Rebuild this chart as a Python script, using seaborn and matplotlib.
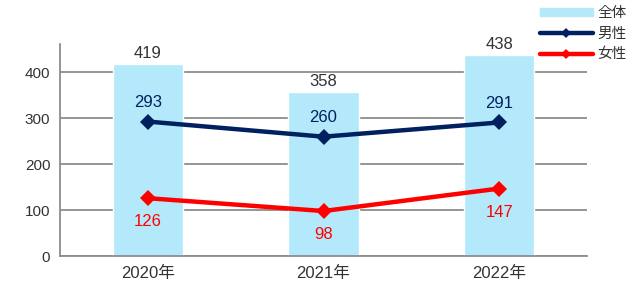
import numpy as np
import matplotlib
matplotlib.use("Agg")
import matplotlib.pyplot as plt
import matplotlib.patches as mpatches
from matplotlib.lines import Line2D
import pandas as pd
import seaborn as sns

# ── data ─────────────────────────────────────────────────────────────────────
years  = ["2020年", "2021年", "2022年"]
total  = [419, 358, 438]
male   = [293, 260, 291]
female = [126, 98, 147]

C_BAR    = "#B3E9FB"
C_MALE   = "#002060"
C_FEMALE = "#FF0000"
C_GRID   = "#8C8C8C"
C_TEXT   = "#333333"

sns.set_theme(style="white")
plt.rcParams["font.family"] = ["Liberation Sans", "Noto Sans CJK JP", "DejaVu Sans"]

df = pd.DataFrame({"year": years, "total": total, "male": male, "female": female})

fig = plt.figure(figsize=(6.43, 2.88), dpi=100)
ax = fig.add_axes([60 / 643, 32 / 288, 527 / 643, 212 / 288])

sns.barplot(data=df, x="year", y="total", color=C_BAR, width=0.4,
            saturation=1, ax=ax, zorder=2)
sns.lineplot(data=df, x="year", y="male", color=C_MALE, lw=3.2,
             marker="D", markersize=8, markeredgewidth=0, ax=ax, zorder=3)
sns.lineplot(data=df, x="year", y="female", color=C_FEMALE, lw=3.2,
             marker="D", markersize=8, markeredgewidth=0, ax=ax, zorder=3)

ax.set_xlim(-0.5, 2.5)
ax.set_ylim(0, 462)
ax.set_yticks([0, 100, 200, 300, 400])
ax.yaxis.grid(True, color=C_GRID, lw=1.3, zorder=0)
ax.set_axisbelow(True)
ax.set_xlabel(""); ax.set_ylabel("")

for s in ["top", "right"]:
    ax.spines[s].set_visible(False)
for s in ["left", "bottom"]:
    ax.spines[s].set_color(C_GRID)
    ax.spines[s].set_linewidth(1.3)

ax.tick_params(axis="x", which="major", length=0, labelsize=12,
               labelcolor=C_TEXT, pad=7)
ax.set_xticks([-0.5, 0.5, 1.5, 2.5], minor=True)
ax.tick_params(axis="x", which="minor", length=4, width=1.3, color=C_GRID,
               direction="out")
ax.tick_params(axis="y", length=4, width=1.3, color=C_GRID, direction="out",
               labelsize=11, labelcolor=C_TEXT, pad=3)

for i, v in enumerate(total):
    ax.annotate(f"{v}", (i, v), xytext=(0, 2), textcoords="offset points",
                ha="center", va="bottom", fontsize=12, color=C_TEXT)
for i, v in enumerate(male):
    ax.annotate(f"{v}", (i, v), xytext=(0, 14), textcoords="offset points",
                ha="center", va="center", fontsize=12, color=C_MALE)
for i, v in enumerate(female):
    ax.annotate(f"{v}", (i, v), xytext=(0, -17), textcoords="offset points",
                ha="center", va="center", fontsize=12, color=C_FEMALE)

handles = [
    mpatches.Patch(color=C_BAR, label="全体"),
    Line2D([], [], color=C_MALE, lw=3.2, marker="D", markersize=5,
           markeredgewidth=0, label="男性"),
    Line2D([], [], color=C_FEMALE, lw=3.2, marker="D", markersize=5,
           markeredgewidth=0, label="女性"),
]
leg = fig.legend(handles=handles, loc="upper left",
                 bbox_to_anchor=(538 / 643, 0.986), frameon=False,
                 fontsize=10.5, handlelength=3.6, handleheight=0.5,
                 labelspacing=0.45, handletextpad=0.3, borderaxespad=0.0,
                 borderpad=0.15)
for t in leg.get_texts():
    t.set_color(C_TEXT)

fig.savefig("out.png", dpi=100)
